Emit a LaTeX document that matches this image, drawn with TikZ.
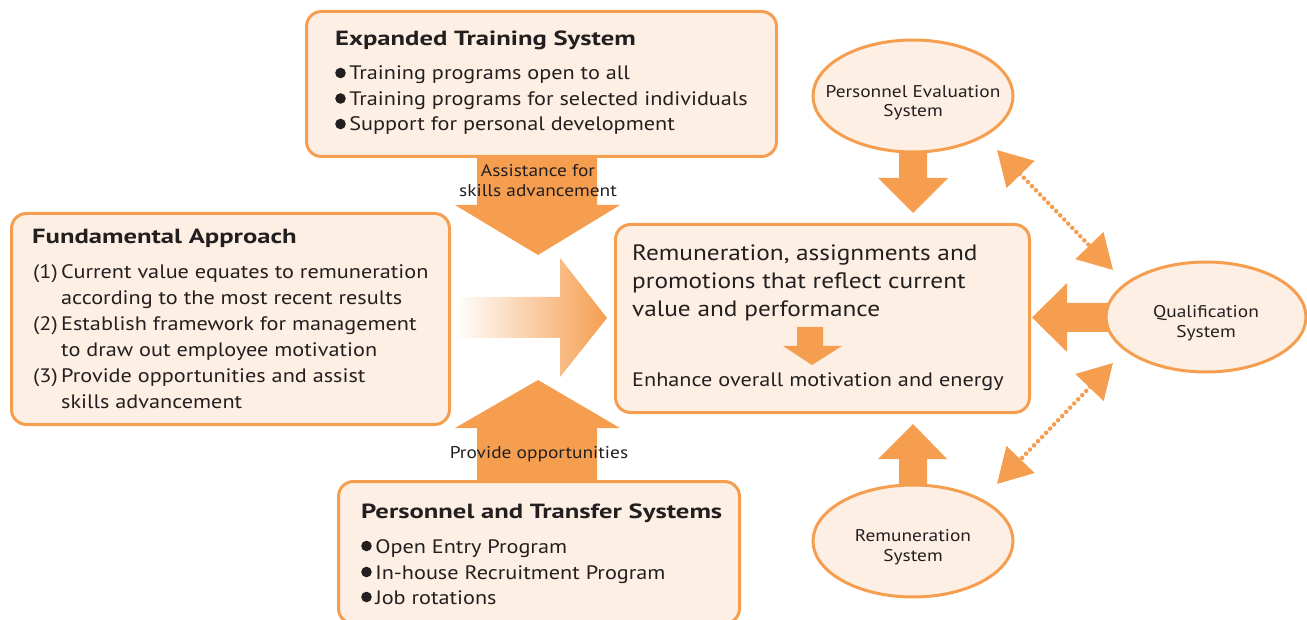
\documentclass[tikz,border=0pt]{standalone}
\usepackage{fontspec}
\setmainfont{PT Sans}[FakeStretch=1.14]
\newfontfamily\ttlfont{PT Sans}[FakeStretch=1.3]
\usetikzlibrary{arrows.meta,backgrounds,shapes.geometric}
\definecolor{org}{RGB}{245,158,80}
\definecolor{pale}{RGB}{253,239,227}
\definecolor{ink}{RGB}{35,31,32}
\newcommand\mybul{\tikz[baseline=-7pt]\fill[ink] (0,0) circle (5.3pt);\hspace{3.5pt}}
\tikzset{
  box/.style={draw=org, fill=pale, line width=3pt, rounded corners=15pt, anchor=north west, inner sep=0pt},
  ell/.style={ellipse, draw=org, fill=pale, line width=3pt, inner sep=0pt},
  elltxt/.style={anchor=base, inner sep=0pt, text=ink, font=\fontsize{17}{20}\selectfont},
  txt/.style={anchor=base west, inner sep=0pt, text=ink, font=\fontsize{19.5}{22}\selectfont},
  bigtxt/.style={anchor=base west, inner sep=0pt, text=ink, font=\fontsize{22.2}{26}\selectfont},
  midtxt/.style={anchor=base west, inner sep=0pt, text=ink, font=\fontsize{19.5}{23}\selectfont},
  ttl/.style={anchor=base west, inner sep=0pt, text=ink, font=\fontsize{20.5}{24}\ttlfont\bfseries},
  lbl/.style={anchor=base, inner sep=0pt, text=ink, font=\fontsize{17}{19}\selectfont},
  blk/.style={fill=org},
  dots/.style={draw=org, line width=4.5pt, dash pattern=on 0pt off 5.8pt, line cap=round,
    {Triangle[length=34pt,width=38pt]}-{Triangle[length=34pt,width=38pt]}}
}
\begin{document}
\begin{tikzpicture}[x=1pt,y=-1pt]
\useasboundingbox (0,0) rectangle (1307,620);
% boxes
\node[box, minimum width=470pt, minimum height=145pt] (train) at (305,10) {};
\node[box, minimum width=438pt, minimum height=211pt] (fund) at (10,212) {};
\node[box, minimum width=401pt, minimum height=142pt] (pers) at (337,480) {};
\node[box, minimum width=414pt, minimum height=188pt] (core) at (614,223) {};
% ellipses
\node[ell, minimum width=200pt, minimum height=112pt] (eval) at (913,96) {};
\node[ell, minimum width=200pt, minimum height=110pt] (qual) at (1206,317) {};
\node[ell, minimum width=200pt, minimum height=112pt] (remu) at (913,541) {};
\node[elltxt] (e1) at (913,97.5) {Personnel Evaluation};
\node[elltxt] (e2) at (913,117) {System};
\node[elltxt] (q1) at (1206,317.5) {Qualification};
\node[elltxt] (q2) at (1206,337.5) {System};
\node[elltxt] (r1) at (913,541.7) {Remuneration};
\node[elltxt] (r2) at (913,561.7) {System};
% block arrows behind
\begin{scope}[on background layer]
\path[blk] (477,150)--(597,150)--(597,205)--(620,205)--(538,255)--(455,205)--(477,205)--cycle;
\path[blk] (477,485)--(597,485)--(597,428)--(620,428)--(538,380)--(455,428)--(477,428)--cycle;
\shade[left color=white, right color=org] (455,297)--(560,297)--(560,258)--(607,318)--(560,377)--(560,338)--(455,338)--cycle;
\path[blk] (899,145)--(927,145)--(927,178)--(948,178)--(913,213)--(878,178)--(899,178)--cycle;
\path[blk] (899,495)--(927,495)--(927,459)--(947,459)--(913,424)--(878,459)--(899,459)--cycle;
\path[blk] (1115,303)--(1067,303)--(1067,283)--(1032,317.5)--(1067,352)--(1067,332)--(1115,332)--cycle;
\end{scope}
% small arrow inside core box
\path[blk] (797,327)--(823,327)--(823,346)--(842,346)--(812,365)--(783,346)--(797,346)--cycle;
% training text
\node[ttl] (t0) at (335,46) {Expanded Training System};
\node[txt] (t1) at (335,80) {\mybul Training programs open to all};
\node[txt] (t2) at (335,105.5) {\mybul Training programs for selected individuals};
\node[txt] (t3) at (335,131) {\mybul Support for personal development};
% fundamental text
\node[ttl] (f0) at (32,244) {Fundamental Approach};
\node[txt] (f1) at (33,279) {\makebox[28pt][l]{(1)}Current value equates to remuneration};
\node[txt] (f2) at (61,305) {according to the most recent results};
\node[txt] (f3) at (33,331) {\makebox[28pt][l]{(2)}Establish framework for management};
\node[txt] (f4) at (61,357) {to draw out employee motivation};
\node[txt] (f5) at (33,382) {\makebox[28pt][l]{(3)}Provide opportunities and assist};
\node[txt] (f6) at (61,408) {skills advancement};
% personnel text
\node[ttl] (p0) at (361,518) {Personnel and Transfer Systems};
\node[txt] (p1) at (361,553) {\mybul Open Entry Program};
\node[txt] (p2) at (361,579) {\mybul In-house Recruitment Program};
\node[txt] (p3) at (361,604) {\mybul Job rotations};
% core text
\node[bigtxt] (c1) at (632,261) {Remuneration, assignments and};
\node[bigtxt] (c2) at (632,289) {promotions that reflect current};
\node[bigtxt] (c3) at (632,317) {value and performance};
\node[midtxt] (c4) at (632,387) {Enhance overall motivation and energy};
% arrow labels
\node[lbl] (l1) at (538,177) {Assistance for};
\node[lbl] (l2) at (538,197) {skills advancement};
\node[lbl] (l3) at (539,458) {Provide opportunities};
% dotted double arrows
\coordinate (da1) at (997,150);
\coordinate (da2) at (1113,270);
\coordinate (db1) at (1113,363);
\coordinate (db2) at (997,484);
\draw[dots] (da1) -- (da2);
\draw[dots] (db1) -- (db2);
\end{tikzpicture}
\end{document}
